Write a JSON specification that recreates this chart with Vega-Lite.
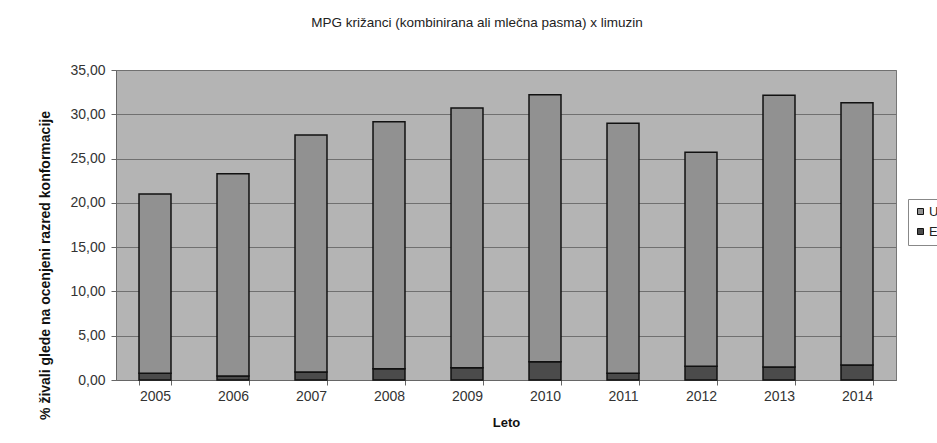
{
  "$schema": "https://vega.github.io/schema/vega-lite/v6.json",
  "width": 780,
  "height": 310,
  "autosize": {"type": "none"},
  "padding": {"left": 116, "top": 70, "right": 41, "bottom": 63},
  "background": "white",
  "title": {
    "text": "MPG križanci (kombinirana ali mlečna pasma) x limuzin",
    "anchor": "middle",
    "dx": -29,
    "offset": 34,
    "font": "Liberation Sans",
    "fontSize": 13.5,
    "fontWeight": "normal",
    "color": "#222"
  },
  "data": {
    "values": [
      {"leto": "2005", "razred": "E", "delez": 0.75},
      {"leto": "2005", "razred": "U", "delez": 20.25},
      {"leto": "2006", "razred": "E", "delez": 0.45},
      {"leto": "2006", "razred": "U", "delez": 22.85},
      {"leto": "2007", "razred": "E", "delez": 0.9},
      {"leto": "2007", "razred": "U", "delez": 26.75},
      {"leto": "2008", "razred": "E", "delez": 1.28},
      {"leto": "2008", "razred": "U", "delez": 27.87},
      {"leto": "2009", "razred": "E", "delez": 1.39},
      {"leto": "2009", "razred": "U", "delez": 29.31},
      {"leto": "2010", "razred": "E", "delez": 2.07},
      {"leto": "2010", "razred": "U", "delez": 30.13},
      {"leto": "2011", "razred": "E", "delez": 0.75},
      {"leto": "2011", "razred": "U", "delez": 28.25},
      {"leto": "2012", "razred": "E", "delez": 1.54},
      {"leto": "2012", "razred": "U", "delez": 24.16},
      {"leto": "2013", "razred": "E", "delez": 1.47},
      {"leto": "2013", "razred": "U", "delez": 30.68},
      {"leto": "2014", "razred": "E", "delez": 1.69},
      {"leto": "2014", "razred": "U", "delez": 29.61}
    ]
  },
  "mark": {"type": "bar", "stroke": "#111", "strokeWidth": 1.5},
  "encoding": {
    "x": {
      "field": "leto",
      "type": "ordinal",
      "scale": {"paddingInner": 0.59, "paddingOuter": 0.295},
      "axis": {
        "title": "Leto",
        "titleFont": "Liberation Sans",
        "titleFontSize": 13,
        "titleFontWeight": "bold",
        "titleColor": "#111",
        "titlePadding": 13,
        "labelAngle": 0,
        "labelFont": "Liberation Sans",
        "labelFontSize": 14,
        "labelColor": "#333",
        "labelPadding": 4,
        "tickBand": "extent",
        "tickSize": 5,
        "tickColor": "#666",
        "domainColor": "#666",
        "grid": false
      }
    },
    "y": {
      "field": "delez",
      "type": "quantitative",
      "stack": "zero",
      "scale": {"domain": [0, 35], "nice": false},
      "axis": {
        "title": "% živali glede na ocenjeni razred konformacije",
        "titleFont": "Liberation Sans",
        "titleFontSize": 14,
        "titleFontWeight": "bold",
        "titleColor": "#111",
        "titleX": -71,
        "titleY": 195,
        "titleAngle": -90,
        "titleAlign": "center",
        "titleBaseline": "middle",
        "values": [0, 5, 10, 15, 20, 25, 30, 35],
        "format": ".2f",
        "labelFont": "Liberation Sans",
        "labelFontSize": 14,
        "labelColor": "#333",
        "labelPadding": 6,
        "tickSize": 5,
        "tickColor": "#666",
        "domainColor": "#666",
        "grid": true,
        "gridColor": "#707070",
        "gridWidth": 1
      }
    },
    "color": {
      "field": "razred",
      "type": "nominal",
      "scale": {"domain": ["U", "E"], "range": ["#919191", "#4b4b4b"]},
      "legend": {
        "title": null,
        "orient": "none",
        "legendX": 792,
        "legendY": 129,
        "symbolType": "square",
        "symbolSize": 36,
        "symbolStrokeColor": "#111",
        "symbolStrokeWidth": 1,
        "labelFont": "Liberation Sans",
        "labelFontSize": 13,
        "labelColor": "#222",
        "labelOffset": 2,
        "rowPadding": 6,
        "padding": 6,
        "strokeColor": "#888",
        "fillColor": "white"
      }
    },
    "order": {"field": "razred", "sort": "ascending"}
  },
  "config": {
    "locale": {
      "number": {"decimal": ",", "thousands": ".", "grouping": [3], "currency": ["", " €"]}
    },
    "view": {"fill": "#b4b4b4", "stroke": "#777", "strokeWidth": 1}
  }
}
